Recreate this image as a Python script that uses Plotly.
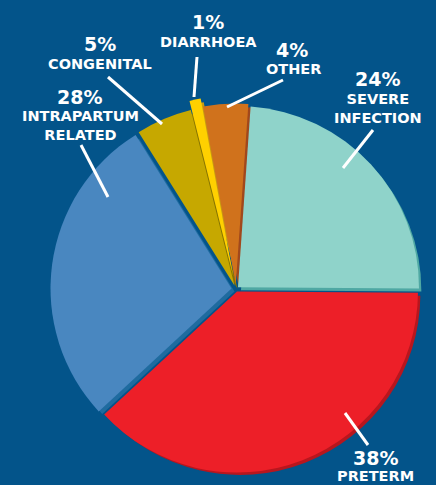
import plotly.graph_objects as go

# Causes of neonatal death, share of total (%)
causes = ["Severe infection", "Preterm", "Intrapartum related",
          "Congenital", "Diarrhoea", "Other"]
shares = [24, 38, 28, 5, 1, 4]
caption_lines = [["SEVERE", "INFECTION"], ["PRETERM"], ["INTRAPARTUM", "RELATED"],
                 ["CONGENITAL"], ["DIARRHOEA"], ["OTHER"]]

# Styling
W, H = 436, 485
BG = "#03548a"
face_colors = ["#8fd3ca", "#ed1f28", "#4987c0", "#c6a800", "#ffd000", "#d0721c"]
edge_colors = ["#4fa8a3", "#b8161e", "#1f6b9f", "#857300", "#c79a12", "#a1481c"]
pulls = [0.015, 0.015, 0.025, 0.02, 0.07, 0.025]
ROTATION = 4
FONT = "DejaVu Sans"

# Pie placement in pixels (centre and radius); the extruded edge sits behind, offset
CX, CY, R = 236, 289, 181
DX, DY = 3, 3


def pie_domain(cx, cy, half):
    return dict(x=[max(0, (cx - half) / W), min(1, (cx + half) / W)],
                y=[max(0, 1 - (cy + half) / H), min(1, 1 - (cy - half) / H)])


max_pull = max(pulls)
main_half = R * (1 + max_pull)
edge_half = min(main_half, H - (CY + DY))

fig = go.Figure()
for colors, dom in [(edge_colors, pie_domain(CX + DX, CY + DY, edge_half)),
                    (face_colors, pie_domain(CX, CY, main_half))]:
    fig.add_trace(go.Pie(
        labels=causes, values=shares, sort=False, direction="clockwise",
        rotation=ROTATION, pull=pulls, textinfo="none",
        marker=dict(colors=colors, line=dict(width=0)),
        domain=dom, showlegend=False, hoverinfo="label+percent",
    ))

# Callout text positions (pixel centres) for the percentage and the caption
pct_pos = [(377, 79), (375, 458), (79, 97), (100, 44), (208, 22), (292, 50)]
cap_pos = [(378, 108), (375, 476), (80, 126), (100, 64), (208, 42), (293, 69)]
# Leader lines (outer end, inner end) in pixels
leaders = [((373, 130), (343, 168)), ((345, 413), (368, 445)),
           ((81, 145), (108, 197)), ((108, 77), (162, 124)),
           ((197, 57), (194, 97)), ((283, 80), (227, 107))]

annotations = []
for v, lines, (px, py), (qx, qy) in zip(shares, caption_lines, pct_pos, cap_pos):
    annotations.append(dict(
        x=px / W, y=1 - py / H, xref="paper", yref="paper",
        text=f"<b>{v}%</b>", showarrow=False, xanchor="center", yanchor="middle",
        font=dict(family=FONT, size=19, color="white")))
    annotations.append(dict(
        x=qx / W, y=1 - qy / H, xref="paper", yref="paper",
        text="<br>".join(f"<b>{t}</b>" for t in lines), showarrow=False,
        xanchor="center", yanchor="middle",
        font=dict(family=FONT, size=14.5, color="white")))

shapes = []
for (x0, y0), (x1, y1) in leaders:
    shapes.append(dict(type="line", xref="paper", yref="paper",
                       x0=x0 / W, y0=1 - y0 / H, x1=x1 / W, y1=1 - y1 / H,
                       line=dict(color="white", width=3)))

fig.update_layout(
    width=W, height=H, margin=dict(l=0, r=0, t=0, b=0),
    paper_bgcolor=BG, plot_bgcolor=BG,
    annotations=annotations, shapes=shapes,
)

fig.write_html("out.html")
